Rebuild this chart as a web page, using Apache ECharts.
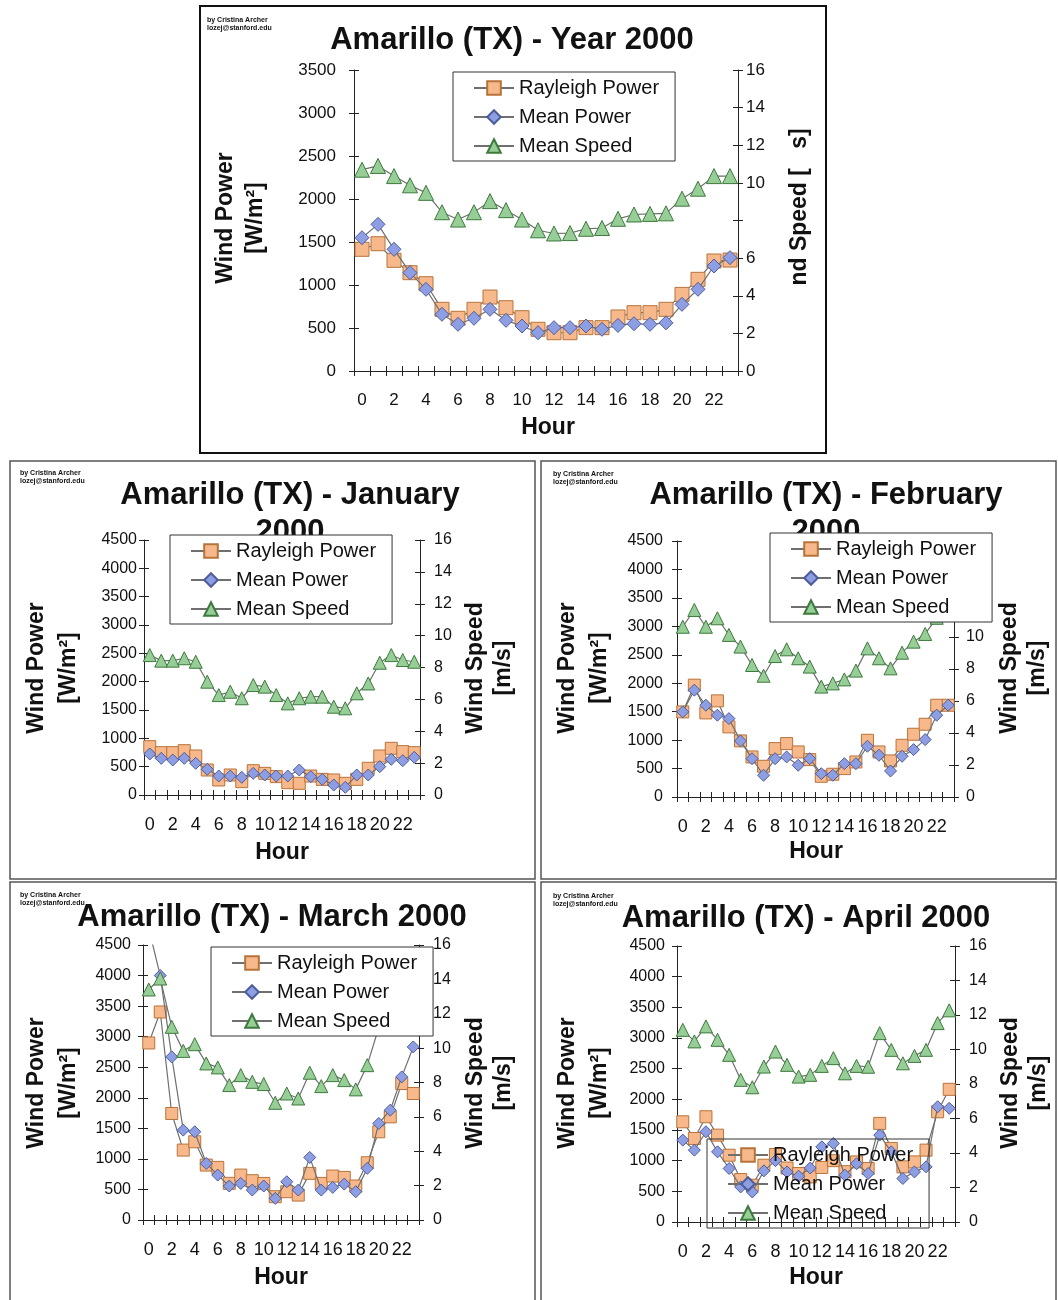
<!DOCTYPE html>
<html>
<head>
<meta charset="utf-8">
<script src="https://cdn.jsdelivr.net/npm/echarts@6/dist/echarts.min.js"></script>
<style>
  html, body { margin: 0; padding: 0; background: #fff; }
  #main { width: 1058px; height: 1300px; }
</style>
</head>
<body>
<div id="main"></div>
<script>
// Hours of the day (category axis)
const hours = ['0','1','2','3','4','5','6','7','8','9','10','11','12','13','14','15','16','17','18','19','20','21','22','23'];

// Axis ranges: [min, max, interval]
const yearPowerAxis = [0, 3500, 500];
const monthPowerAxis = [0, 4500, 500];
const speedAxis = [0, 16, 2];

// Year 2000
const yearRayleigh = [1415, 1480, 1287, 1143, 1015, 717, 613, 717, 860, 736, 620, 485, 445, 445, 504, 504, 628, 678, 678, 717, 891, 1066, 1279, 1290];
const yearMean     = [1550, 1705, 1415, 1143, 950, 659, 543, 613, 717, 589, 523, 445, 504, 504, 523, 485, 530, 550, 543, 560, 775, 950, 1221, 1318];
const yearSpeed    = [10.7, 10.9, 10.36, 9.87, 9.47, 8.44, 8.05, 8.44, 9.03, 8.55, 8.05, 7.48, 7.31, 7.33, 7.56, 7.6, 8.09, 8.32, 8.35, 8.38, 9.16, 9.69, 10.36, 10.36];

// January 2000
const janRayleigh = [853, 747, 747, 782, 688, 441, 265, 353, 235, 429, 382, 324, 218, 206, 335, 276, 265, 206, 276, 471, 688, 824, 765, 747];
const janMean     = [724, 647, 618, 647, 559, 453, 335, 335, 312, 382, 353, 335, 335, 441, 324, 276, 176, 135, 353, 353, 500, 630, 606, 665];
const janSpeed    = [8.78, 8.43, 8.43, 8.58, 8.36, 7.11, 6.27, 6.48, 6.07, 6.9, 6.8, 6.27, 5.75, 6.07, 6.17, 6.17, 5.54, 5.44, 6.38, 7.0, 8.3, 8.78, 8.47, 8.36];

// February 2000
const febRayleigh = [1496, 1966, 1478, 1690, 1232, 986, 704, 540, 851, 939, 792, 657, 364, 400, 499, 616, 997, 792, 634, 909, 1103, 1279, 1613, 1613];
const febMean     = [1496, 1878, 1613, 1438, 1378, 986, 674, 382, 674, 704, 558, 674, 410, 382, 586, 586, 892, 734, 458, 716, 833, 1009, 1438, 1613];
const febSpeed    = [10.64, 11.69, 10.64, 11.17, 10.13, 9.4, 8.25, 7.58, 8.81, 9.23, 8.67, 8.15, 6.9, 7.1, 7.35, 7.9, 9.29, 8.67, 8.04, 9.02, 9.71, 10.19, 11.2, 11.6];

// March 2000
const marRayleigh = [2897, 3404, 1743, 1144, 1280, 899, 861, 600, 735, 643, 599, 381, 463, 408, 763, 599, 719, 697, 556, 937, 1443, 1688, 2233, 2070];
const marMean     = [4770, 4000, 2669, 1471, 1443, 926, 735, 556, 599, 490, 556, 354, 626, 490, 1024, 490, 534, 588, 463, 845, 1580, 1797, 2342, 2832];
const marSpeed    = [13.41, 14.05, 11.24, 9.84, 10.23, 9.11, 8.88, 7.85, 8.43, 8.04, 7.91, 6.82, 7.36, 7.07, 8.57, 7.79, 8.43, 8.14, 7.6, 9.01, 11.2, 12.4, 13.6, 15.4];

// April 2000
const aprRayleigh = [1634, 1362, 1716, 1416, 1089, 692, 600, 926, 1100, 880, 790, 735, 889, 1000, 820, 980, 872, 1608, 1199, 899, 980, 1172, 1797, 2163];
const aprMean     = [1335, 1172, 1471, 1144, 872, 572, 490, 834, 1000, 817, 747, 880, 1226, 1281, 763, 950, 791, 1417, 1144, 709, 817, 899, 1879, 1853];
const aprSpeed    = [11.14, 10.47, 11.34, 10.56, 9.69, 8.24, 7.81, 9.01, 9.88, 9.11, 8.43, 8.53, 9.05, 9.5, 8.62, 9.05, 9.0, 10.95, 9.98, 9.2, 9.63, 9.98, 11.53, 12.27];

const seriesNames = ['Rayleigh Power', 'Mean Power', 'Mean Speed'];
const FONT = '"Liberation Sans", Arial, Helvetica, sans-serif';
const INK = '#111';

// Panel layout
const panels = [
  { grid: [354, 70, 384, 301], power: yearPowerAxis, data: [yearRayleigh, yearMean, yearSpeed],
    sym: 14, fs: 17, xfs: 17, xMargin: 21, lMargin: 18, rMargin: 8, hideSpeed: [8],
    legend: { left: 453, top: 72, bg: '#fff' } },
  { grid: [144, 540, 276, 255], power: monthPowerAxis, data: [janRayleigh, janMean, janSpeed],
    sym: 12, fs: 16, xfs: 18, xMargin: 21, lMargin: 7, rMargin: 14, hideSpeed: [],
    legend: { left: 170, top: 535, bg: '#fff' } },
  { grid: [677, 541, 277, 256], power: monthPowerAxis, data: [febRayleigh, febMean, febSpeed],
    sym: 12, fs: 16, xfs: 18, xMargin: 21, lMargin: 14, rMargin: 12, hideSpeed: [],
    legend: { left: 770, top: 533, bg: '#fff' } },
  { grid: [143, 945, 276, 275], power: monthPowerAxis, data: [marRayleigh, marMean, marSpeed],
    sym: 12, fs: 16, xfs: 18, xMargin: 21, lMargin: 12, rMargin: 14, hideSpeed: [],
    legend: { left: 211, top: 947, bg: '#fff' } },
  { grid: [677, 946, 278, 276], power: monthPowerAxis, data: [aprRayleigh, aprMean, aprSpeed],
    sym: 12, fs: 16, xfs: 18, xMargin: 21, lMargin: 12, rMargin: 14, hideSpeed: [],
    legend: { left: 707, top: 1139, bg: 'transparent' } }
];

const markerStyles = [
  { symbol: 'rect',     color: '#f7b98b', border: '#b8733a' },
  { symbol: 'diamond',  color: '#8d9fe2', border: '#4e5c9c' },
  { symbol: 'triangle', color: '#97cd96', border: '#3d7a3d' }
];

const option = {
  animation: false,
  backgroundColor: '#fff',
  grid: [], xAxis: [], yAxis: [], series: [], legend: [], graphic: []
};

const axisLineStyle = { color: '#222', width: 1 };

panels.forEach((p, i) => {
  option.grid.push({ left: p.grid[0], top: p.grid[1], width: p.grid[2], height: p.grid[3], show: false });

  const xBase = option.xAxis.length;
  const xCommon = { type: 'category', gridIndex: i, data: hours, position: 'bottom', boundaryGap: true, z: 3,
                    splitLine: { show: false } };
  option.xAxis.push(Object.assign({}, xCommon, {
    axisLine: { show: true, onZero: false, lineStyle: axisLineStyle },
    axisTick: { show: true, interval: 0, length: 5, lineStyle: axisLineStyle },
    axisLabel: { interval: 1, fontSize: p.xfs, fontFamily: FONT, color: INK, margin: p.xMargin }
  }));
  option.xAxis.push(Object.assign({}, xCommon, {
    axisLine: { show: false, onZero: false },
    axisTick: { show: true, inside: true, interval: 0, length: 5, lineStyle: axisLineStyle },
    axisLabel: { show: false }
  }));

  const yBase = option.yAxis.length;
  const mk = (pos, range, inside, margin, hide) => ({
    type: 'value', gridIndex: i, position: pos, min: range[0], max: range[1], interval: range[2], z: 3,
    splitLine: { show: false },
    axisLine: { show: !inside, onZero: false, lineStyle: axisLineStyle },
    axisTick: { show: true, inside: inside, length: 5, lineStyle: axisLineStyle },
    axisLabel: inside ? { show: false } : {
      fontSize: p.fs, fontFamily: FONT, color: INK, margin: margin,
      formatter: v => (hide && hide.indexOf(v) >= 0) ? '' : String(v)
    }
  });
  option.yAxis.push(mk('left', p.power, false, p.lMargin, null));
  option.yAxis.push(mk('left', p.power, true, 0, null));
  option.yAxis.push(mk('right', speedAxis, false, p.rMargin, p.hideSpeed));
  option.yAxis.push(mk('right', speedAxis, true, 0, null));

  p.data.forEach((arr, k) => {
    const m = markerStyles[k];
    option.series.push({
      type: 'line', name: seriesNames[k],
      xAxisIndex: xBase, yAxisIndex: k === 2 ? yBase + 2 : yBase,
      data: arr, clip: true, z: 3 + k,
      showSymbol: true, showAllSymbol: true,
      symbol: m.symbol, symbolSize: m.symbol === 'triangle' ? p.sym + 1 : p.sym,
      itemStyle: { color: m.color, borderColor: m.border, borderWidth: 1 },
      lineStyle: { color: '#6f6f6f', width: 1.2 },
      emphasis: { disabled: true }
    });
  });

  option.legend.push({
    left: p.legend.left, top: p.legend.top, orient: 'vertical',
    data: seriesNames, selectedMode: false,
    itemWidth: 40, itemHeight: 17, itemGap: 9, itemTextGap: 7,
    padding: [6, 16, 5, 20],
    borderColor: '#333', borderWidth: 1, borderRadius: 0,
    backgroundColor: p.legend.bg, z: 6,
    textStyle: { fontSize: 20, lineHeight: 20, fontFamily: FONT, color: INK }
  });
});

// Frames around each chart
const frames = [
  { x: 200, y: 6, w: 626, h: 447, c: '#111', lw: 2 },
  { x: 10, y: 461, w: 525, h: 418, c: '#555', lw: 1.5 },
  { x: 541, y: 461, w: 515, h: 418, c: '#555', lw: 1.5 },
  { x: 10, y: 882, w: 525, h: 430, c: '#555', lw: 1.5 },
  { x: 541, y: 882, w: 515, h: 430, c: '#555', lw: 1.5 }
];
frames.forEach(f => option.graphic.push({
  type: 'rect', z: 0, silent: true,
  shape: { x: f.x, y: f.y, width: f.w, height: f.h },
  style: { fill: 'none', stroke: f.c, lineWidth: f.lw }
}));

function txt(text, x, y, font, opts) {
  opts = opts || {};
  return {
    type: 'text', x: x, y: y, z: opts.z || 1, silent: true, rotation: opts.rot || 0,
    style: {
      text: text, font: font, fill: INK,
      textAlign: opts.align || 'center', textVerticalAlign: opts.valign || 'middle',
      lineHeight: opts.lh || undefined
    }
  };
}

const titleFont = 'bold 31px ' + FONT;
const nameFont = 'bold 23px ' + FONT;
const credFont = 'bold 7px ' + FONT;

// Titles
option.graphic.push(txt('Amarillo (TX) - Year 2000', 512, 40, titleFont));
option.graphic.push(txt('Amarillo (TX) - January\n2000', 290, 477, titleFont, { valign: 'top', lh: 37 }));
option.graphic.push(txt('Amarillo (TX) - February\n2000', 826, 477, titleFont, { valign: 'top', lh: 37 }));
option.graphic.push(txt('Amarillo (TX) - March 2000', 272, 917, titleFont));
option.graphic.push(txt('Amarillo (TX) - April 2000', 806, 918, titleFont));

// Author credit
[[207, 16], [20, 469], [553, 470], [20, 891], [553, 892]].forEach(c => {
  option.graphic.push(txt('by Cristina Archer\nlozej@stanford.edu', c[0], c[1], credFont, { align: 'left', valign: 'top', lh: 8 }));
});

// Axis titles
const rot = Math.PI / 2;
option.graphic.push(txt('Wind Power\n[W/m²]', 241, 218, nameFont, { rot: rot, lh: 30 }));
option.graphic.push(txt('nd Speed [   s]', 800, 207, nameFont, { rot: rot }));
[[53, 490, 668], [584, 1024, 668], [53, 490, 1083], [584, 1025, 1083]].forEach(a => {
  option.graphic.push(txt('Wind Power\n[W/m²]', a[0], a[2], nameFont, { rot: rot, lh: 32 }));
  option.graphic.push(txt('Wind Speed\n[m/s]', a[1], a[2], nameFont, { rot: rot, lh: 28 }));
});
[[548, 428], [282, 853], [816, 852], [281, 1278], [816, 1278]].forEach(h => {
  option.graphic.push(txt('Hour', h[0], h[1], nameFont));
});

const chart = echarts.init(document.getElementById('main'), null, { renderer: 'canvas' });
chart.setOption(option);
</script>
</body>
</html>
